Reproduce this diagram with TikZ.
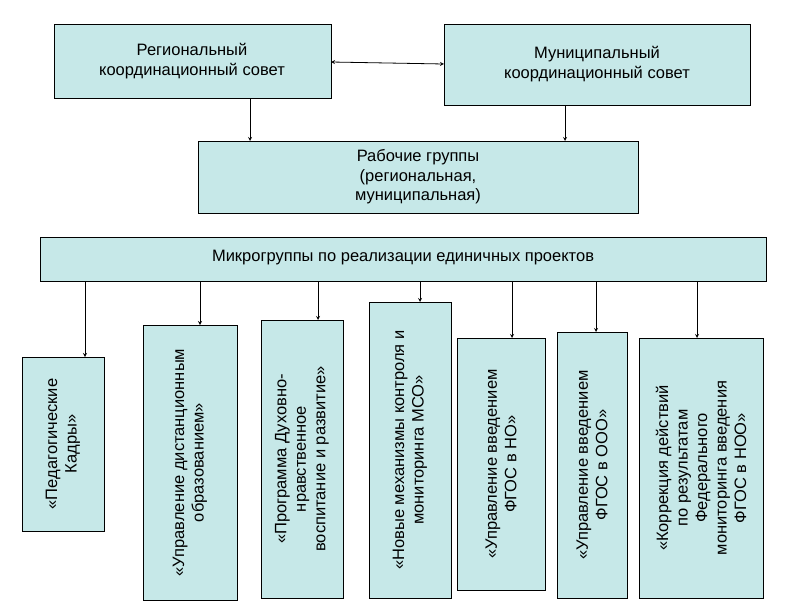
\documentclass[tikz,border=0pt]{standalone}
\usepackage{fontspec}
\setmainfont{Liberation Sans}
\begin{document}
\begin{tikzpicture}[x=1pt,y=-1pt,
  box/.style={draw=black,fill=boxc,line width=0.8pt},
  lbl/.style={font=\fontsize{16.5}{19.5}\selectfont,align=center},
  vlbl/.style={font=\fontsize{16.5}{19.5}\selectfont,align=center,rotate=90},
  arr/.style={-stealth,line width=0.8pt}]
\definecolor{boxc}{HTML}{C6E8E8}
\useasboundingbox (0,0) rectangle (800,600);
\fill[white] (0,0) rectangle (800,600);
\draw[box] (54,24) rectangle (331,98); \node[lbl] (rk) at (192,61) {Региональный\\координационный совет};
\draw[box] (444,24) rectangle (750,105); \node[lbl] (mk) at (597,64) {Муниципальный\\координационный совет};
\coordinate (a1) at (331,62); \coordinate (a2) at (444,64);
\draw[stealth-stealth,line width=0.8pt] (a1) -- (a2);
\draw[box] (198,141) rectangle (638,213); \node[lbl] (rg) at (418,177) {Рабочие группы\\(региональная,\\муниципальная)};
\coordinate (b1) at (250,98); \coordinate (b2) at (250,141); \draw[arr] (b1) -- (b2);
\coordinate (c1) at (565,105); \coordinate (c2) at (565,141); \draw[arr] (c1) -- (c2);
\draw[box] (40,237) rectangle (766,281); \node[lbl] (mg) at (403,258) {Микрогруппы по реализации единичных проектов};
\foreach \xa/\xb/\ya/\yb/\ax/\t [count=\i] in {
 22/104/357/531/85/{«Педагогические\\Кадры»},
 143/237/325/600/200/{«Управление дистанционным\\образованием»},
 261/343/320/598/318/{«Программа Духовно-\\нравственное\\воспитание и развитие»},
 369/451/302/598/420/{«Новые механизмы контроля и\\мониторинга МСО»},
 457/545/338/590/512/{«Управление введением\\ФГОС в НО»},
 557/627/332/598/596/{«Управление введением\\ФГОС в ООО»},
 639/763/338/598/697/{«Коррекция действий\\по результатам\\Федерального\\мониторинга введения\\ФГОС в НОО»}}{
  \draw[box] (\xa,\ya) rectangle (\xb,\yb);
  \node[vlbl] (v\i) at ({(\xa+\xb)/2},{(\ya+\yb)/2}) {\t};
  \coordinate (s\i) at (\ax,281); \coordinate (e\i) at (\ax,\ya);
  \draw[arr] (s\i) -- (e\i);
}
\end{tikzpicture}
\end{document}
